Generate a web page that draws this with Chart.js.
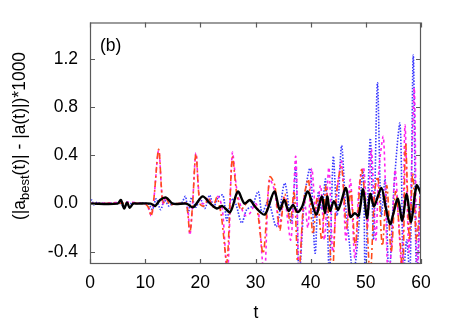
<!DOCTYPE html>
<html>
<head>
<meta charset="utf-8">
<script src="https://cdn.jsdelivr.net/npm/chart.js@4/dist/chart.umd.min.js"></script>
<style>
html,body{margin:0;padding:0;background:#fff;}
#wrap{width:463px;height:324px;}
</style>
</head>
<body>
<div id="wrap"><canvas id="myChart" width="463" height="324"></canvas></div>
<script>
// tick values
var xTicks=[0,10,20,30,40,50,60];
var yTicks=[-0.4,0.0,0.4,0.8,1.2];

// black solid
var tBlack=[0,5,5.6,6.2,6.7,7.2,7.8,8.5,11,11.8,12.7,13.8,15,17.5,18.7,20.4,21.8,23,24,25.4,26.8,28,29,30,31.7,33.4,34.4,35.2,36,36.8,37.6,38.4,39.5,41,42,42.6,43,43.5,44.2,45,46.4,47.2,48,48.7,49.5,50.2,50.8,51.5,52.8,53.6,54.4,55,55.8,56.6,57.4,58.2,59.2,60];
var vBlack=[0,0,0.03,-0.04,0.01,-0.035,0,0,0,-0.02,0.03,0.05,0,0,-0.03,0.06,0.0,-0.04,-0.02,-0.07,0.1,0.0,0.03,-0.03,-0.09,0.1,-0.05,0.03,-0.06,-0.01,-0.07,-0.03,0.1,-0.09,0.06,-0.08,0.06,-0.06,0.02,-0.05,0.13,-0.11,-0.08,-0.1,0.12,-0.12,0.08,-0.02,0.13,-0.03,-0.17,-0.08,0.04,-0.14,0.08,-0.15,0.15,0.08];

// orange-red dash-dot
var tRed=[0,9.8,10.6,11.1,11.6,12.45,13.2,13.8,14.5,15.5,17,17.5,18.1,18.6,19.2,19.9,20.6,21.5,22.3,23,23.8,24.8,25.8,26.6,27.3,28,28.8,29.6,30.3,31.4,32.6,33.5,34.4,35.3,36.3,37.0,37.8,38.8,39.6,40.4,41.2,42,42.8,43.9,44.7,45.6,46.5,47.3,48.1,49.2,50.1,50.8,51.6,52.2,53,53.8,54.6,55.4,56.2,56.7,57.2,57.9,58.5,59.2,60];
var vRed=[0,0,-0.03,-0.1,0.05,0.45,0.0,0.04,-0.01,0,0,0.0,-0.24,0.0,0.41,0.0,-0.02,0.04,-0.03,0.05,-0.1,-0.49,0.38,0.08,-0.05,-0.02,0.03,0.0,-0.05,-0.41,0.22,0.15,-0.22,0.08,-0.15,0.1,-0.6,0.05,0.2,-0.25,0.05,-0.3,0.15,-0.6,0.1,0.3,-0.2,0.1,-0.35,0.28,-0.1,-0.6,0.1,0.22,-0.35,0.15,-0.4,0.1,-0.3,-0.6,0.5,-0.3,0.25,-0.3,0.15];

// magenta dashed
var tMag=[0,10,11.1,11.6,12.45,13.2,13.8,14.8,16,17.5,18.1,18.6,19.2,19.9,20.6,21.5,22.3,23.2,24,24.9,25.8,26.6,27.4,28.2,29,30,30.5,31.6,32.5,33.5,34.3,35.2,36.4,37.3,37.9,38.8,39.5,40.2,41,41.8,42.5,43.3,44,44.8,45.6,46.4,47.2,48,48.8,49.6,50.3,51,51.8,52.4,53.2,54,54.6,55.3,56,56.6,57.1,57.8,58.3,58.8,59.3,60];
var vMag=[0,0,-0.1,0.05,0.44,0.0,0.05,0,0,0,-0.26,0.0,0.42,0.02,0.0,0.05,-0.02,0.06,-0.05,-0.6,0.42,0.12,-0.03,-0.1,-0.08,0.0,-0.05,-0.6,0.2,0.1,-0.2,0.05,-0.3,0.39,-0.6,0.05,-0.2,0.29,-0.1,0.15,-0.3,0.3,-0.4,0.1,0.35,-0.3,0.2,-0.45,0.15,0.3,-0.2,0.45,-0.3,0.3,0.55,-0.6,-0.4,0.28,-0.2,-0.6,0.65,-0.4,0.3,0.95,-0.6,0.2];

// blue dotted
var tBlue=[0,0.3,0.7,1.2,2,5.5,6.2,6.8,7.5,10.5,11.3,12,12.8,13.5,14.3,15,16.5,17.3,17.8,18.4,19.2,20,20.8,21.7,22.4,23.2,24.1,24.8,25.6,26.4,27.5,28.4,29.4,30.5,31.2,32.3,33.8,35.3,36.5,37.3,37.9,38.9,39.9,40.8,41.4,42,42.7,43.4,44.1,44.8,45.6,46.3,47.1,47.7,48.5,49.5,49.9,50.8,51.4,52.1,52.8,53.5,54.2,55.2,56.2,56.8,57.4,58,58.6,59.2,60];
var vBlue=[0,0.03,-0.01,0.01,0,0,-0.03,0.01,0,0,-0.05,0.04,-0.05,0.03,-0.02,0,0,0.06,-0.08,0.05,-0.03,0.04,-0.04,0.07,-0.03,0.05,0.07,-0.14,0.04,0.0,-0.16,-0.05,-0.02,0.1,-0.08,0.02,-0.19,0.17,-0.16,0.3,-0.6,0.05,0.29,-0.41,0.1,-0.05,0.2,-0.6,0.39,-0.1,0.48,0.0,-0.36,-0.6,-0.32,0.28,-0.6,0.54,-0.3,1.0,-0.1,0.2,-0.6,0.2,0.66,-0.6,-0.3,-0.6,1.23,-0.6,0.3];

function pts(t,v){
    var out=[];
    for(var i=0;i<t.length;i++){
        out.push({x:t[i],y:v[i]});
    }
    return out;
}

var FONT='"Liberation Sans", Arial, sans-serif';
var FS=17.5;

var frame={
    id:'frame',
    afterDraw:function(c){
        var a=c.chartArea,g=c.ctx,xs=c.scales.x,ys=c.scales.y;
        g.save();
        g.strokeStyle='#5a5a5a';
        g.lineWidth=1.2;
        g.strokeRect(a.left+0.5,a.top+0.5,a.right-a.left-1,a.bottom-a.top-1);
        g.beginPath();
        xTicks.forEach(function(v){
            var p=Math.round(xs.getPixelForValue(v))+0.5;
            g.moveTo(p,a.bottom);g.lineTo(p,a.bottom-5);
            g.moveTo(p,a.top);g.lineTo(p,a.top+5);
        });
        yTicks.forEach(function(v){
            var p=Math.round(ys.getPixelForValue(v))+0.5;
            g.moveTo(a.left,p);g.lineTo(a.left+5,p);
            g.moveTo(a.right,p);g.lineTo(a.right-5,p);
        });
        g.stroke();

        g.fillStyle='#000';
        g.font=FS+'px '+FONT;
        g.textBaseline='alphabetic';
        g.fillText('(b)',100,51);

        g.textAlign='center';
        g.fillText('t',256,318);

        // y title with subscript
        var p1='(|a',sub='best',p2='(t)| - |a(t)|)*1000';
        var subFS=13;
        g.font=FS+'px '+FONT;
        var w1=g.measureText(p1).width,w2=g.measureText(p2).width;
        g.font=subFS+'px '+FONT;
        var ws=g.measureText(sub).width;
        var tot=w1+ws+w2;
        g.translate(25,136);
        g.rotate(-Math.PI/2);
        g.textAlign='left';
        var x0=-tot/2;
        g.font=FS+'px '+FONT;
        g.fillText(p1,x0,0);
        g.font=subFS+'px '+FONT;
        g.fillText(sub,x0+w1,4);
        g.font=FS+'px '+FONT;
        g.fillText(p2,x0+w1+ws,0);
        g.restore();
    }
};

var ctx=document.getElementById('myChart').getContext('2d');
var chart=new Chart(ctx,{
    type:'line',
    data:{
        datasets:[{
            label:'black',
            data:pts(tBlack,vBlack),
            borderColor:'#000000',
            borderWidth:2.4,
            tension:0.3
        },{
            label:'red',
            data:pts(tRed,vRed),
            borderColor:'#ff4a1a',
            borderWidth:1.6,
            borderDash:[6,3,2,3],
            tension:0.3
        },{
            label:'magenta',
            data:pts(tMag,vMag),
            borderColor:'#ff22ee',
            borderWidth:1.6,
            borderDash:[3,3],
            tension:0.3
        },{
            label:'blue',
            data:pts(tBlue,vBlue),
            borderColor:'#3a3aff',
            borderWidth:1.6,
            borderDash:[1.5,1.5],
            tension:0.3
        }]
    },
    options:{
        responsive:false,
        animation:false,
        events:[],
        layout:{padding:{top:22,right:42,left:0,bottom:0}},
        elements:{point:{radius:0}},
        plugins:{legend:{display:false},tooltip:{enabled:false}},
        scales:{
            x:{
                type:'linear',min:0,max:60,
                grid:{display:false,drawTicks:false},
                border:{display:false},
                afterBuildTicks:function(s){s.ticks=xTicks.map(function(v){return {value:v};});},
                afterFit:function(s){s.height=60;},
                ticks:{color:'#000',font:{size:FS,family:FONT},padding:9,maxRotation:0}
            },
            y:{
                type:'linear',min:-0.5,max:1.5,
                grid:{display:false,drawTicks:false},
                border:{display:false},
                afterBuildTicks:function(s){s.ticks=yTicks.map(function(v){return {value:v};});},
                afterFit:function(s){s.width=90;},
                ticks:{color:'#000',font:{size:FS,family:FONT},padding:12,
                    callback:function(v){return Number(v).toFixed(1);}}
            }
        }
    },
    plugins:[frame]
});
</script>
</body>
</html>
